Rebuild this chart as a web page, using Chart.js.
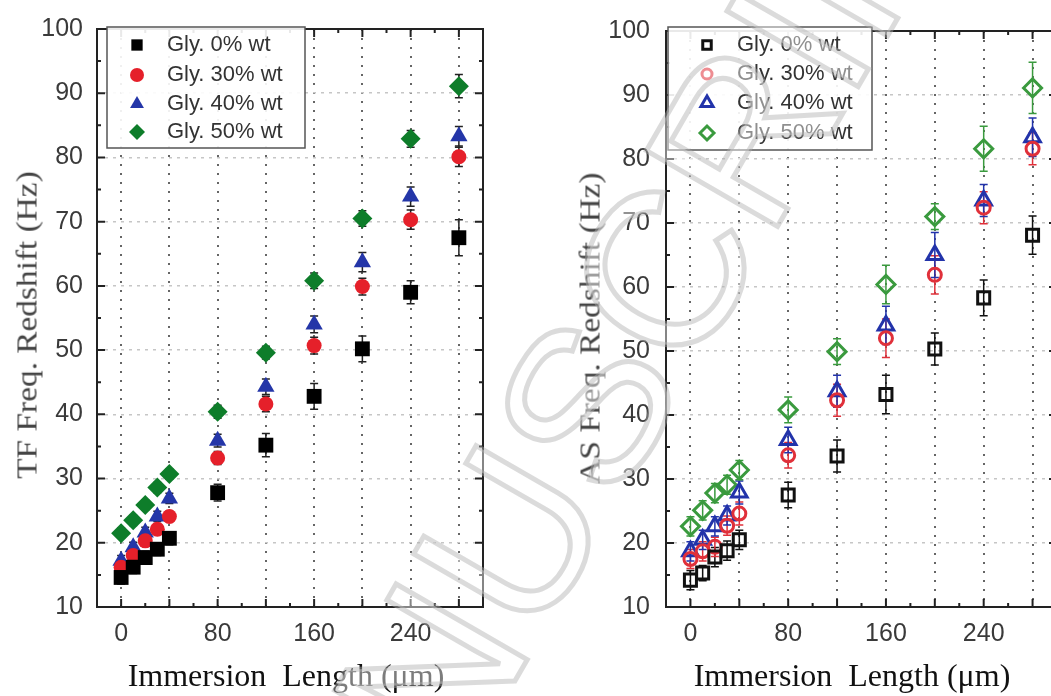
<!DOCTYPE html>
<html>
<head>
<meta charset="utf-8">
<script src="https://cdn.jsdelivr.net/npm/chart.js@4.4.1/dist/chart.umd.min.js"></script>
<style>
  html, body { margin: 0; padding: 0; background: #fff; }
  body { width: 1051px; height: 696px; overflow: hidden; position: relative; }
  canvas { position: absolute; top: 0; }
  .xt { position: absolute; top: 657px; font-family: "Liberation Serif", "Times New Roman", serif;
        font-size: 32px; color: #111; white-space: pre; transform: translateX(-50%); }
  .yt { position: absolute; font-family: "Liberation Serif", "Times New Roman", serif; font-size: 29px;
        color: #444; white-space: pre; transform: translate(-50%, -50%) rotate(-90deg) scaleX(1.15); }
  .wm { position: absolute; left: 590px; top: 400px; font-family: "Liberation Sans", Arial, sans-serif;
        font-size: 220px; white-space: pre; color: rgba(255,255,255,0.45);
        -webkit-text-stroke: 5px rgba(175,175,175,0.45);
        transform: translate(-50%, -50%) rotate(-60deg); pointer-events: none; }
</style>
</head>
<body>
<canvas id="tf" width="530" height="696" style="left:0"></canvas>
<canvas id="as" width="530" height="696" style="left:540px"></canvas>
<div class="yt" style="left:27px;top:325px">TF Freq. Redshift (Hz)</div>
<div class="yt" style="left:590px;top:328px">AS Freq. Redshift (Hz)</div>
<div class="xt" style="left:286px">Immersion  Length (μm)</div>
<div class="xt" style="left:852px">Immersion  Length (μm)</div>
<div class="wm">MANUSCRIPT</div>
<script>
// immersion length, um
const lengths = [0, 10, 20, 30, 40, 80, 120, 160, 200, 240, 280];
const names = ['Gly. 0% wt', 'Gly. 30% wt', 'Gly. 40% wt', 'Gly. 50% wt'];
const xLabels = [0, 80, 160, 240];
const xGrid = [0, 40, 80, 120, 160, 200, 240, 280];
const yTicks = [10, 20, 30, 40, 50, 60, 70, 80, 90, 100];

// TF redshift (Hz)
const tf0  = [14.6, 16.2, 17.7, 19.0, 20.7, 27.8, 35.2, 42.8, 50.2, 59.0, 67.5];
const tf30 = [16.2, 18.0, 20.3, 22.1, 24.1, 33.2, 41.6, 50.7, 59.9, 70.3, 80.1];
const tf40 = [17.2, 19.3, 21.6, 24.1, 26.9, 35.9, 44.3, 54.0, 63.7, 73.9, 83.3];
const tf50 = [21.5, 23.5, 25.9, 28.6, 30.7, 40.4, 49.6, 60.8, 70.5, 82.9, 91.1];
const tfErr0  = [1.0, 1.0, 1.0, 1.0, 1.0, 1.3, 1.8, 2.0, 2.0, 1.8, 2.8];
const tfErr30 = [0.8, 0.8, 0.8, 0.8, 0.8, 1.0, 1.2, 1.3, 1.3, 1.5, 1.5];
const tfErr40 = [0.8, 0.8, 0.8, 0.8, 0.8, 1.0, 1.2, 1.3, 1.5, 1.5, 1.5];
const tfErr50 = [0.8, 0.8, 0.8, 0.8, 0.8, 1.0, 1.0, 1.2, 1.2, 1.3, 1.8];

// AS redshift (Hz)
const as0  = [14.2, 15.3, 17.8, 18.8, 20.5, 27.5, 33.6, 43.2, 50.3, 58.3, 68.1];
const as30 = [17.5, 18.7, 19.4, 22.7, 24.6, 33.7, 42.3, 52.0, 61.9, 72.4, 81.6];
const as40 = [18.7, 20.5, 22.6, 24.3, 27.9, 36.1, 43.7, 54.0, 65.0, 73.5, 83.4];
const as50 = [22.6, 25.1, 27.8, 29.1, 31.4, 40.8, 49.9, 60.4, 71.0, 81.6, 91.1];
const asErr0  = [1.5, 1.2, 1.5, 1.5, 1.5, 2.0, 2.5, 3.0, 2.5, 2.8, 3.0];
const asErr30 = [1.5, 1.5, 1.5, 1.5, 1.8, 2.0, 2.5, 3.0, 3.0, 2.5, 2.5];
const asErr40 = [1.5, 1.5, 1.5, 1.5, 1.8, 2.0, 2.5, 3.0, 3.5, 2.5, 3.0];
const asErr50 = [1.5, 1.5, 1.5, 1.5, 1.5, 2.0, 2.0, 3.0, 2.0, 3.5, 4.0];

const styles = ['rect', 'circle', 'triangle', 'rectRot'];
const solidColors = ['#000000', '#e5202a', '#2436a8', '#0e7d2a'];
const openColors = ['#111111', '#e0303a', '#2233aa', '#3a9a3e'];

function makeSets(series, errs, colors, open) {
  const radii = open ? [8.5, 6.5, 9, 9] : [10.5, 7.5, 10, 10];
  return series.map((vals, k) => ({
    label: names[k],
    data: lengths.map((x, i) => ({ x: x, y: vals[i] })),
    errors: errs[k],
    errColor: open ? colors[k] : '#222',
    pointStyle: styles[k],
    pointRadius: radii[k],
    pointBackgroundColor: open ? 'rgba(0,0,0,0)' : colors[k],
    pointBorderColor: colors[k],
    pointBorderWidth: open ? 3 : 0,
    showLine: false
  }));
}

const errorBars = {
  id: 'errorBars',
  beforeDatasetsDraw(chart) {
    const { ctx, scales: { x, y } } = chart;
    chart.data.datasets.forEach(ds => {
      ctx.save();
      ctx.strokeStyle = ds.errColor;
      ctx.lineWidth = 1.5;
      ds.data.forEach((p, i) => {
        const px = x.getPixelForValue(p.x);
        const top = y.getPixelForValue(p.y + ds.errors[i]);
        const bot = y.getPixelForValue(p.y - ds.errors[i]);
        ctx.beginPath();
        ctx.moveTo(px, top); ctx.lineTo(px, bot);
        ctx.moveTo(px - 4, top); ctx.lineTo(px + 4, top);
        ctx.moveTo(px - 4, bot); ctx.lineTo(px + 4, bot);
        ctx.stroke();
      });
      ctx.restore();
    });
  }
};

// box frame with inward ticks on all four sides
const frame = {
  id: 'frame',
  afterDatasetsDraw(chart) {
    const { ctx, chartArea: a, scales: { x, y } } = chart;
    ctx.save();
    ctx.strokeStyle = '#222';
    ctx.lineWidth = 2;
    ctx.strokeRect(a.left, a.top, a.right - a.left, a.bottom - a.top);
    ctx.beginPath();
    for (let v = -20; v <= 300; v += 20) {
      const px = x.getPixelForValue(v);
      const len = v % 40 === 0 ? 8 : 4;
      ctx.moveTo(px, a.bottom); ctx.lineTo(px, a.bottom - len);
      ctx.moveTo(px, a.top); ctx.lineTo(px, a.top + len);
    }
    for (let v = 10; v <= 100; v += 5) {
      const py = y.getPixelForValue(v);
      const len = v % 10 === 0 ? 8 : 4;
      ctx.moveTo(a.left, py); ctx.lineTo(a.left + len, py);
      ctx.moveTo(a.right, py); ctx.lineTo(a.right - len, py);
    }
    ctx.stroke();
    ctx.restore();
  }
};

function marker(ctx, ds, cx, cy, r) {
  const opts = { pointStyle: ds.pointStyle, radius: r, rotation: 0, borderWidth: ds.pointBorderWidth };
  ctx.fillStyle = ds.pointBackgroundColor;
  ctx.strokeStyle = ds.pointBorderColor;
  ctx.lineWidth = ds.pointBorderWidth;
  if (Chart.helpers && Chart.helpers.drawPoint) {
    Chart.helpers.drawPoint(ctx, opts, cx, cy);
  } else {
    ctx.beginPath(); ctx.arc(cx, cy, r, 0, Math.PI * 2); ctx.fill();
  }
}

const boxLegend = {
  id: 'boxLegend',
  afterDraw(chart, args, o) {
    const ctx = chart.ctx;
    ctx.save();
    ctx.fillStyle = 'rgba(255,255,255,0.9)';
    ctx.fillRect(o.x, o.y, o.w, o.h);
    ctx.strokeStyle = '#555';
    ctx.lineWidth = 1.5;
    ctx.strokeRect(o.x, o.y, o.w, o.h);
    ctx.font = '22px "Liberation Sans", Arial, sans-serif';
    ctx.textBaseline = 'middle';
    chart.data.datasets.forEach((ds, k) => {
      const cy = o.rows[k];
      marker(ctx, ds, o.mx, cy, o.r[k]);
      ctx.fillStyle = '#333';
      ctx.fillText(ds.label, o.tx, cy);
    });
    ctx.restore();
  }
};

function makeChart(id, datasets, yWidth, yPad, padRight, legend) {
  return new Chart(document.getElementById(id), {
    type: 'scatter',
    data: { datasets: datasets },
    plugins: [errorBars, frame, boxLegend],
    options: {
      animation: false,
      responsive: false,
      layout: { padding: { top: 20, right: padRight, left: 0, bottom: 0 } },
      plugins: { legend: { display: false }, tooltip: { enabled: false }, boxLegend: legend },
      scales: {
        x: {
          type: 'linear', min: -20, max: 300,
          afterBuildTicks: s => { s.ticks = xGrid.map(v => ({ value: v })); },
          afterFit: s => { s.height = 89; },
          grid: { color: '#666', lineWidth: 2, drawTicks: false },
          border: { display: false, dash: [2, 7] },
          ticks: {
            autoSkip: false, maxRotation: 0, padding: 12, color: '#3a3a3a',
            font: { family: '"Liberation Sans", Arial, sans-serif', size: 25 },
            callback: v => xLabels.includes(v) ? String(v) : ''
          }
        },
        y: {
          type: 'linear', min: 10, max: 100,
          afterBuildTicks: s => { s.ticks = yTicks.map(v => ({ value: v })); },
          afterFit: s => { s.width = yWidth; },
          grid: { color: '#c6c6c6', lineWidth: 1.5, drawTicks: false },
          border: { display: false, dash: [3, 5] },
          ticks: {
            padding: yPad, color: '#3a3a3a',
            font: { family: '"Liberation Sans", Arial, sans-serif', size: 25 }
          }
        }
      }
    }
  });
}

makeChart('tf', makeSets([tf0, tf30, tf40, tf50], [tfErr0, tfErr30, tfErr40, tfErr50], solidColors, false),
  97, 14, 47,
  { x: 107, y: 27, w: 198, h: 121, mx: 137, tx: 167, rows: [45, 75, 104, 132], r: [8, 7, 8, 8] });

makeChart('as', makeSets([as0, as30, as40, as50], [asErr0, asErr30, asErr40, asErr50], openColors, true),
  126, 16, 13,
  { x: 128, y: 27, w: 204, h: 123, mx: 167, tx: 197, rows: [45, 74, 103, 133], r: [6, 5, 7, 7] });
</script>
</body>
</html>
